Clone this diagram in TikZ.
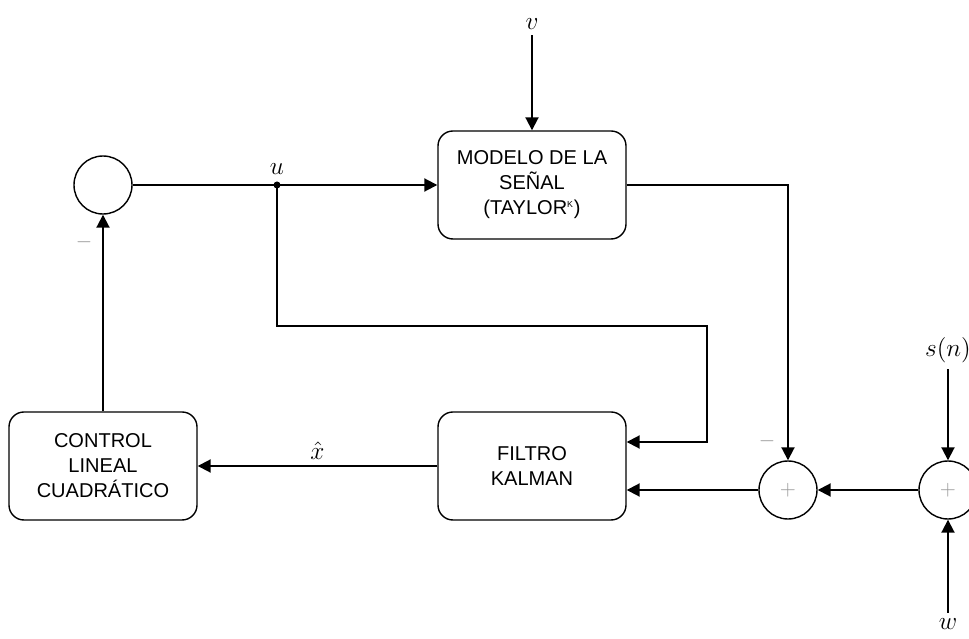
\documentclass[tikz,border=0pt]{standalone}
\usepackage{fontspec}
\setmainfont{Liberation Sans}
\usepackage{amsmath}
\usetikzlibrary{arrows.meta,positioning}
\definecolor{signgray}{RGB}{150,150,150}

\begin{document}
\begin{tikzpicture}[x=0.2mm,y=-0.2mm,
  blk/.style={draw,rounded corners=8.5pt,align=center,minimum width=37.6mm,
              minimum height=21.6mm,line width=0.8pt,
              font=\fontsize{11.4}{14.2}\selectfont},
  sumc/.style={draw,circle,minimum size=11.6mm,inner sep=0pt,line width=0.8pt,
               text=signgray,font=\fontsize{13}{13}\selectfont},
  sig/.style={-{Triangle[length=7.4pt,width=7.4pt]},line width=1.1pt},
  lab/.style={font=\fontsize{14.5}{17}\selectfont},
  sgn/.style={text=signgray,font=\fontsize{13}{13}\selectfont},
  dot/.style={circle,fill,inner sep=0pt,minimum size=1.4mm}
]
\useasboundingbox (0,0) rectangle (969,639);
\node[sumc] (sumL) at (103,185) {};
\node[blk] (model) at (532,185) {MODELO DE LA\\SEÑAL\\(TAYLOR\textsuperscript{\fontsize{5}{5}\selectfont K})};
\node[blk] (filter) at (532,466) {FILTRO\\KALMAN};
\node[blk] (control) at (103,466) {CONTROL\\LINEAL\\CUADRÁTICO};
\node[sumc] (sumA) at (788,490) {$+$};
\node[sumc] (sumB) at (948,490) {$+$};
\node[dot] (usplit) at (277,185) {};
\coordinate (loop) at (707,326);
\node[lab,above=0pt of usplit] (ulab) {$u$};
\node[lab,above=19mm of model] (vlab) {$v$};
\node[lab,above=18.2mm of sumB] (slab) {$s(n)$};
\node[lab,below=18.6mm of sumB] (wlab) {$w$};
\node[sgn] (mL) at (84,242) {$-$};
\node[sgn] (mA) at (767,441) {$-$};
\draw[sig] (sumL) -- (usplit.center) -- (model);
\draw[sig] (vlab) -- (model);
\draw[sig] (model.east) -| (sumA.north);
\draw[sig] (usplit.center) |- (loop) |- ([yshift=4.8mm]filter.east);
\draw[sig] (sumA) -- (sumA -| filter.east);
\draw[sig] (sumB) -- (sumA);
\draw[sig] (slab) -- (sumB);
\draw[sig] (wlab) -- (sumB);
\draw[sig] (filter) -- node[lab,above] (xlab) {$\hat{x}$} (control);
\draw[sig] (control) -- (sumL);
\end{tikzpicture}
\end{document}
